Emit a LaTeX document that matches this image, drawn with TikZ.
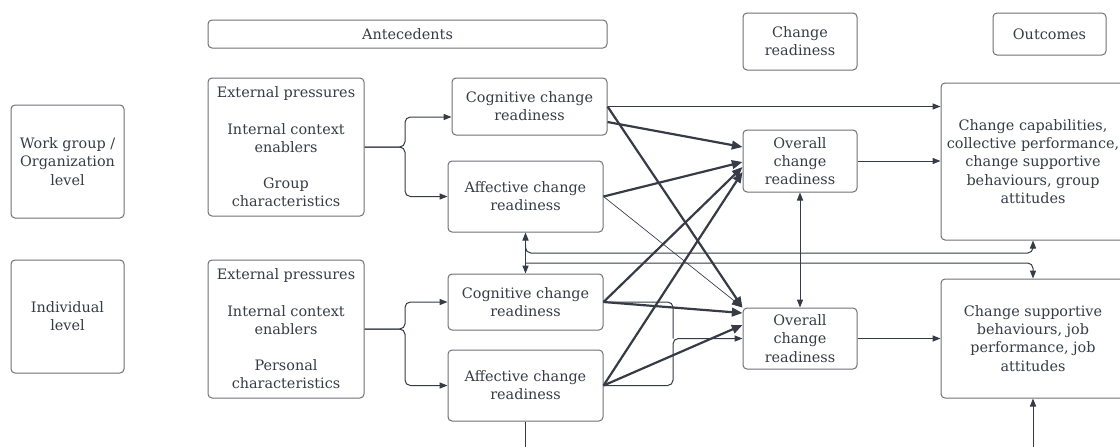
\documentclass[tikz,border=0pt]{standalone}
\usepackage{fontspec}
\setmainfont{DejaVu Serif}
\usetikzlibrary{arrows.meta}
\definecolor{ink}{HTML}{363B45}
\definecolor{frame}{HTML}{6E7075}
\newcommand\boxfont{\fontsize{10.8}{13.6}\selectfont}
\begin{document}
\begin{tikzpicture}[x=0.75pt,y=-0.75pt,
  box/.style={draw=frame, line width=0.75pt, rounded corners=3pt, align=center,
    font=\boxfont, text=ink, inner sep=0pt},
  sz/.style 2 args={minimum width=#1*0.75pt, minimum height=#2*0.75pt},
  thin/.style={draw=ink, line width=0.75pt, rounded corners=4pt},
  thinarr/.style={thin, -{Triangle[length=6pt,width=4.6pt]}},
  dblarr/.style={thin, {Triangle[length=6pt,width=4.6pt]}-{Triangle[length=6pt,width=4.6pt]}},
  thickarr/.style={draw=ink, line width=1.65pt, -{Triangle[length=8pt,width=6.5pt]}},
  faintarr/.style={draw=ink, line width=0.5pt, -{Triangle[length=8pt,width=6.5pt]}}
]
\useasboundingbox (0,0) rectangle (1120,446);
\clip (0,0) rectangle (1120,446);

% column headers
\node[box, sz={399}{28}] (hAnte) at (407.5,34) {Antecedents};
\node[box, sz={114}{57}] (hCR) at (800,41.5) {Change\\readiness};
\node[box, sz={113}{42}] (hOut) at (1049.5,34) {Outcomes};

% level labels
\node[box, sz={113}{113}] (lvlA) at (67.5,161.5) {Work group /\\Organization\\level};
\node[box, sz={113}{113}] (lvlB) at (67.5,316.5) {Individual\\level};

% antecedents
\node[box, sz={156}{138}] (extA) at (286,147)
  {External pressures\\[\baselineskip]Internal context\\enablers\\[\baselineskip]Group\\characteristics};
\node[box, sz={156}{138}] (extB) at (286,329)
  {External pressures\\[\baselineskip]Internal context\\enablers\\[\baselineskip]Personal\\characteristics};

% change readiness dimensions
\node[box, sz={155}{57}] (cogA) at (529.5,106.5) {Cognitive change\\readiness};
\node[box, sz={155}{71}] (affA) at (525.5,196.5) {Affective change\\readiness};
\node[box, sz={155}{56}] (cogB) at (525.5,302) {Cognitive change\\readiness};
\node[box, sz={155}{71}] (affB) at (525.5,385.5) {Affective change\\readiness};

% overall readiness
\node[box, sz={114}{62}] (ovA) at (800,161) {Overall\\change\\readiness};
\node[box, sz={114}{61}] (ovB) at (800,338.5) {Overall\\change\\readiness};

% outcomes
\node[box, sz={184}{157}] (outA) at (1033,161.5)
  {Change capabilities,\\collective performance,\\change supportive\\behaviours, group\\attitudes};
\node[box, sz={184}{119}] (outB) at (1033,338.5)
  {Change supportive\\behaviours, job\\performance, job\\attitudes};

% antecedents feed both readiness dimensions
\draw[thinarr] (extA.east) -| (405,117) -- (cogA.west |- 405,117);
\draw[thinarr] (extA.east) -| (405,196.5) -- (affA.west);
\draw[thinarr] (extB.east) -| (405,302) -- (cogB.west);
\draw[thinarr] (extB.east) -| (405,385.5) -- (affB.west);

% group-level paths
\draw[thinarr] (cogA.east) -- (outA.west |- cogA.east);
\draw[thickarr] (cogA.east |- 0,122) -- (ovA.west |- 0,147);
\draw[thickarr] (cogA.east) -- (ovB.north west);
\draw[thickarr] (affA.east) -- (ovA.west |- 0,162);
\draw[faintarr] (affA.east) -- (ovB.north west);

% individual-level paths
\draw[thickarr] (cogB.east) -- (ovA.west |- 0,167);
\draw[thickarr] (cogB.east) -- (ovB.west |- 0,313);
\draw[thickarr] (affB.east) -- (ovA.west |- 0,172);
\draw[thickarr] (affB.east) -- (ovB.west |- 0,325);
\draw[thin] (cogB.east) -| (673,338.5);
\draw[thinarr] (affB.east) -| (673,338.5) -- (ovB.west);

% cross-level links
\draw[dblarr] (affA.south) -- (cogB.north);
\draw[thinarr] (affA.south |- 0,245) |- (1033,253) -- (outA.south);
\draw[thinarr] (affA.south |- 0,263) -| (outB.north);
\draw[dblarr] (ovA.south) -- (ovB.north);

% overall readiness to outcomes
\draw[thinarr] (ovA.east) -- (outA.west |- ovA.east);
\draw[thinarr] (ovB.east) -- (outB.west |- ovB.east);

% links running off the lower edge
\coordinate (offA) at (525.5,450);
\coordinate (offB) at (1033,450);
\draw[thin] (affB.south) -- (offA);
\draw[thinarr] (offB) -- (outB.south);
\end{tikzpicture}
\end{document}
